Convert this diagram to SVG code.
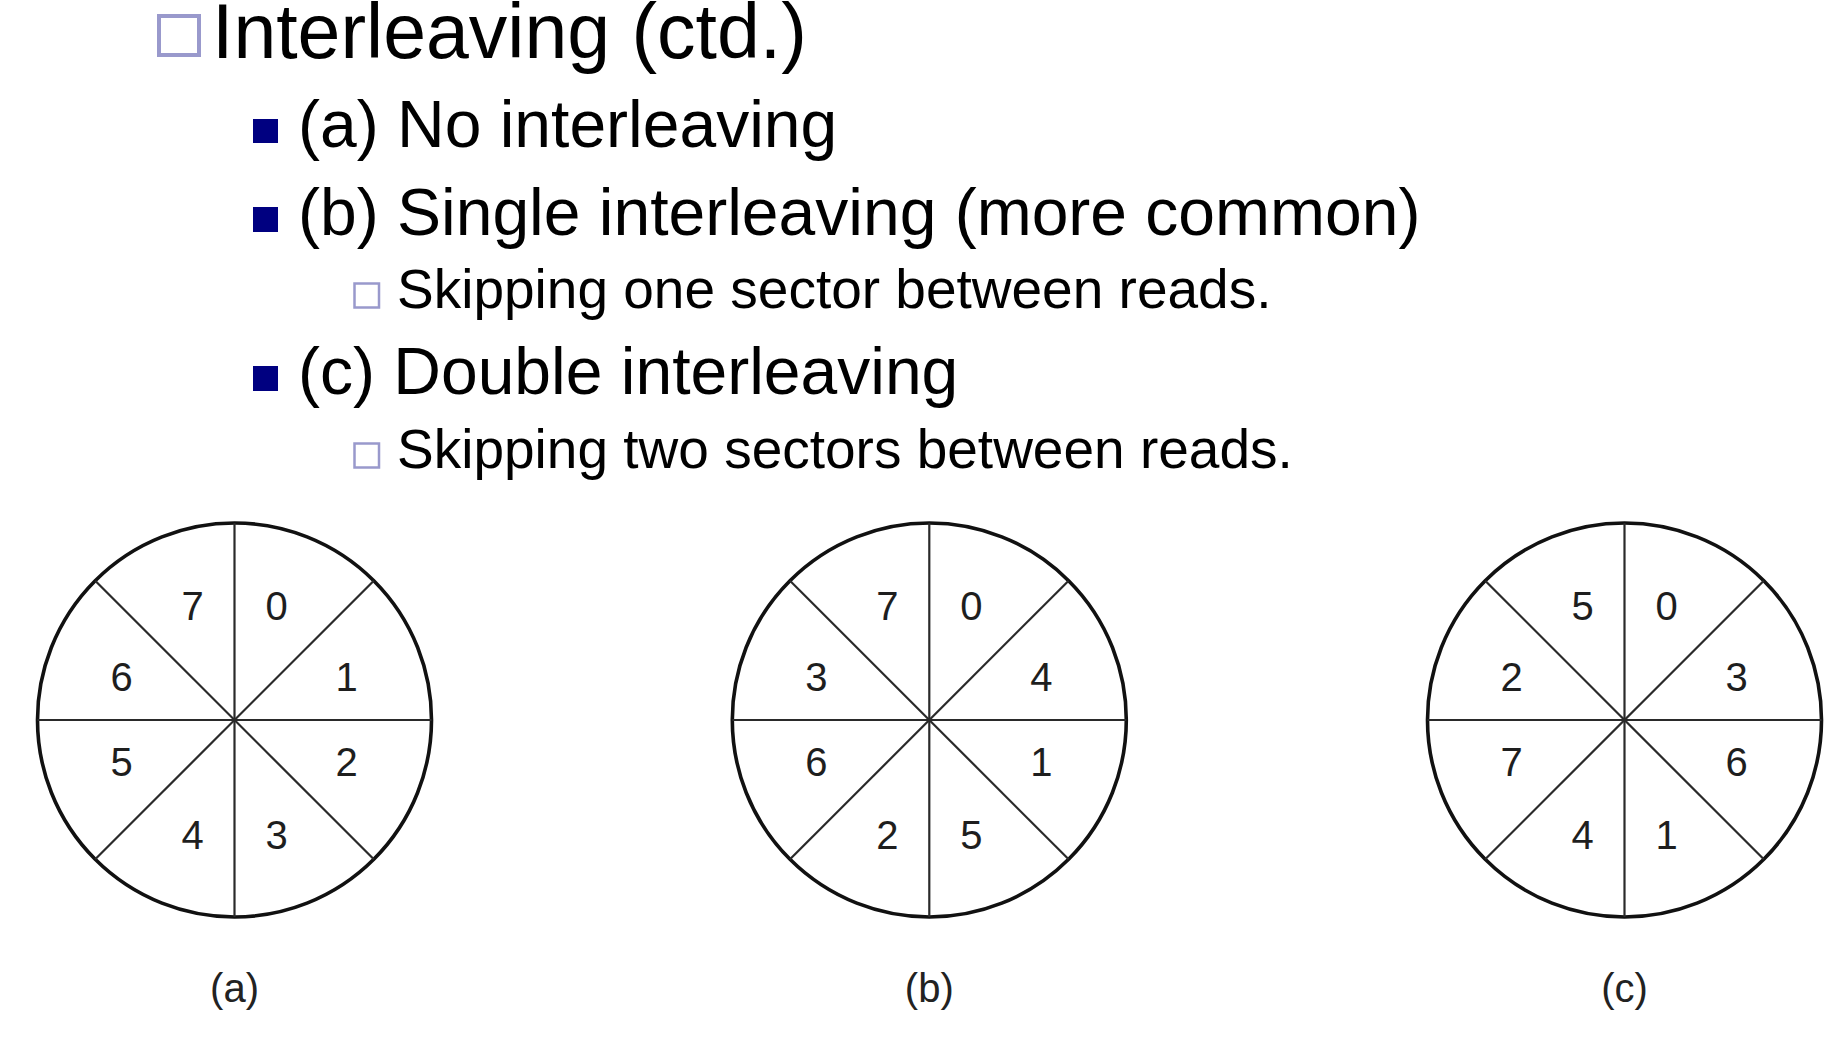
<svg xmlns="http://www.w3.org/2000/svg" width="1836" height="1052" viewBox="0 0 1836 1052">
<style>
.t{font-family:"Liberation Sans",Arial,sans-serif;fill:#000}
.h1{font-size:77px}
.h2{font-size:66px}
.h3{font-size:55px}
.lb{font-family:"Liberation Sans",Arial,sans-serif;font-size:40px;fill:#1e1e1e;text-anchor:middle}
.cap{font-family:"Liberation Sans",Arial,sans-serif;font-size:40px;fill:#222;text-anchor:middle}
.ob{fill:none;stroke:#9999cc}
.fb{fill:#000080}
.rim{fill:#fff;stroke:#111;stroke-width:3.6}
.sp{stroke:#2a2a2a;stroke-width:2.2;fill:none}
</style>
<defs>
<g id="spokes">
<line class="sp" x1="0" y1="-197" x2="0" y2="197"/>
<line class="sp" x1="-197" y1="0" x2="197" y2="0"/>
<line class="sp" x1="-139.3" y1="-139.3" x2="139.3" y2="139.3"/>
<line class="sp" x1="139.3" y1="-139.3" x2="-139.3" y2="139.3"/>
</g>
</defs>
<rect width="1836" height="1052" fill="#fff"/>
<g id="text">
<rect class="ob" x="159" y="16" width="40" height="39" stroke-width="4"/>
<text class="t h1" x="212" y="57.5">Interleaving (ctd.)</text>
<rect class="fb" x="253" y="119" width="25" height="24"/>
<text class="t h2" x="298" y="147">(a) No interleaving</text>
<rect class="fb" x="253" y="207" width="25" height="25"/>
<text class="t h2" x="298" y="235">(b) Single interleaving (more common)</text>
<rect class="ob" x="354.5" y="283.5" width="24.5" height="24" stroke-width="2.5"/>
<text class="t h3" x="397" y="307.5">Skipping one sector between reads.</text>
<rect class="fb" x="253" y="366" width="25" height="25"/>
<text class="t h2" x="298" y="394">(c) Double interleaving</text>
<rect class="ob" x="354.5" y="443.5" width="24.5" height="24" stroke-width="2.5"/>
<text class="t h3" x="397" y="467.5">Skipping two sectors between reads.</text>
</g>
<g id="diskA" transform="translate(234.5,720)">
<circle class="rim" cx="0" cy="0" r="197"/>
<use href="#spokes"/>
<text class="lb" x="-42" y="-100">7</text>
<text class="lb" x="42" y="-100">0</text>
<text class="lb" x="-113" y="-29">6</text>
<text class="lb" x="112" y="-29">1</text>
<text class="lb" x="-113" y="56">5</text>
<text class="lb" x="112" y="56">2</text>
<text class="lb" x="-42" y="129">4</text>
<text class="lb" x="42" y="129">3</text>
<text class="cap" x="0" y="282">(a)</text>
</g>
<g id="diskB" transform="translate(929.3,720)">
<circle class="rim" cx="0" cy="0" r="197"/>
<use href="#spokes"/>
<text class="lb" x="-42" y="-100">7</text>
<text class="lb" x="42" y="-100">0</text>
<text class="lb" x="-113" y="-29">3</text>
<text class="lb" x="112" y="-29">4</text>
<text class="lb" x="-113" y="56">6</text>
<text class="lb" x="112" y="56">1</text>
<text class="lb" x="-42" y="129">2</text>
<text class="lb" x="42" y="129">5</text>
<text class="cap" x="0" y="282">(b)</text>
</g>
<g id="diskC" transform="translate(1624.5,720)">
<circle class="rim" cx="0" cy="0" r="197"/>
<use href="#spokes"/>
<text class="lb" x="-42" y="-100">5</text>
<text class="lb" x="42" y="-100">0</text>
<text class="lb" x="-113" y="-29">2</text>
<text class="lb" x="112" y="-29">3</text>
<text class="lb" x="-113" y="56">7</text>
<text class="lb" x="112" y="56">6</text>
<text class="lb" x="-42" y="129">4</text>
<text class="lb" x="42" y="129">1</text>
<text class="cap" x="0" y="282">(c)</text>
</g>
</svg>
